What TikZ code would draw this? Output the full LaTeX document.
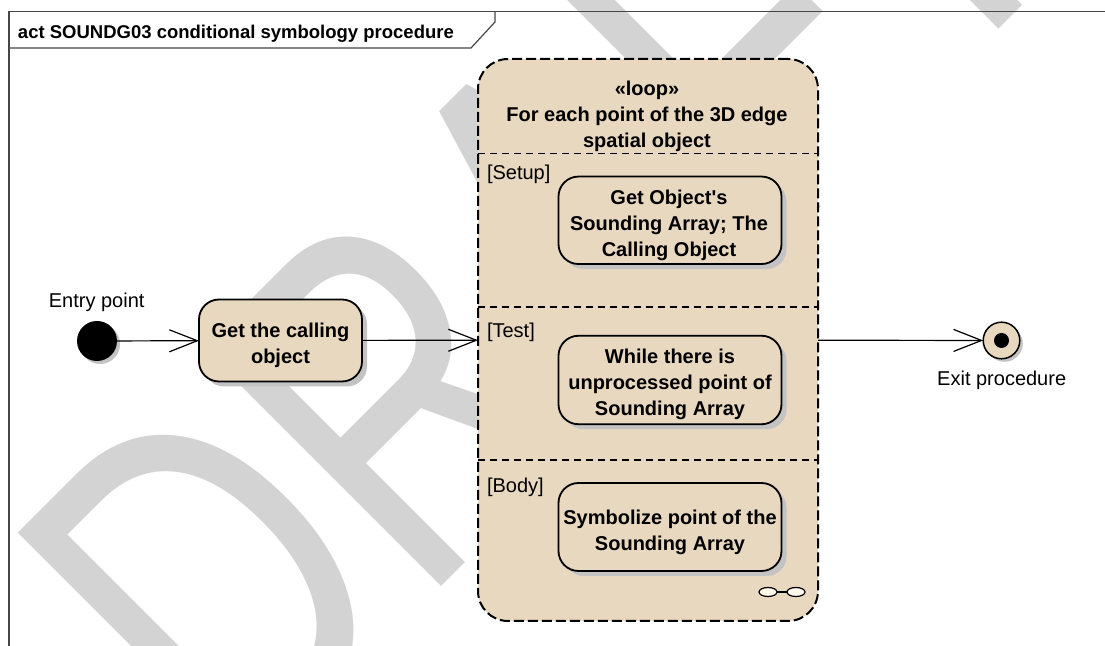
\documentclass[tikz,border=0pt]{standalone}
\usepackage{fontspec}
\setmainfont{Liberation Sans}
\usetikzlibrary{arrows.meta,shadows}
\definecolor{beige}{RGB}{232,216,191}
\definecolor{shadowgray}{RGB}{195,195,195}
\definecolor{wmgray}{RGB}{211,211,211}
\definecolor{framegray}{RGB}{70,70,70}
\definecolor{iconfill}{RGB}{255,250,235}
\begin{document}
\begin{tikzpicture}[x=0.5pt,y=-0.5pt,
  every node/.style={inner sep=0pt, outer sep=0pt},
  lbl/.style={font=\fontsize{10}{13}\selectfont},
  boldtxt/.style={font=\bfseries\fontsize{10}{13}\selectfont, align=center},
  actbox/.style={draw=black, line width=0.9pt, fill=beige, rounded corners=10pt,
    drop shadow={shadow xshift=2.5pt, shadow yshift=-2.5pt, fill=shadowgray, opacity=1}},
  loopbox/.style={draw=black, line width=1pt, dash pattern=on 5pt off 2pt, fill=beige, rounded corners=15pt},
  divider/.style={draw=black, line width=0.75pt, dash pattern=on 3.5pt off 2.5pt},
  arr/.style={draw=black, line width=0.6pt, -{Straight Barb[length=14pt,width=11pt]}},
  framel/.style={draw=framegray, line width=0.6pt},
  smallshadow/.style={drop shadow={shadow xshift=1.5pt, shadow yshift=-1.5pt, fill=shadowgray, opacity=1}},
]
\useasboundingbox (0,0) rectangle (1105,646);
\fill[white] (0,0) rectangle (1105,646);

% watermark
\begin{scope}
  \clip (0,0) rectangle (1105,646);
  \begin{scope}[shift={(235,793)}, rotate=45, xscale=0.74]
    \node[anchor=base west, text=wmgray, font=\fontsize{245}{245}\selectfont, transform shape] (wm) at (0,0) {DRAFT};
  \end{scope}
\end{scope}

% frame
\draw[framel] (1105,11.5) -- (9,11.5) -- (9,646);
\draw[framel] (9,48) -- (471,48) -- (495,22) -- (495,11.5);
\node[anchor=base west, font=\bfseries\fontsize{9.25}{11}\selectfont] (title) at (18,38.5) {act SOUNDG03 conditional symbology procedure};

% loop node
\node[loopbox, minimum width=170pt, minimum height=281pt] (loop) at (648,340) {};
\draw[divider] (478,153.5) -- (818,153.5);
\draw[divider] (478,307) -- (818,307);
\draw[divider] (478,460) -- (818,460);
\node[boldtxt] (hdr) at (647,116) {«loop»\\For each point of the 3D edge\\spatial object};
\node[lbl, anchor=west] (lsetup) at (487,174) {[Setup]};
\node[lbl, anchor=west] (ltest) at (487,332) {[Test]};
\node[lbl, anchor=west] (lbody) at (487,487) {[Body]};

% actions inside loop
\node[actbox, minimum width=111.5pt, minimum height=43.75pt] (a1) at (670,220.3) {};
\node[boldtxt] (a1t) at (669,225) {Get Object\textquotesingle s\\Sounding Array; The\\Calling Object};
\node[actbox, minimum width=111.5pt, minimum height=44.25pt] (a2) at (670,380) {};
\node[boldtxt] (a2t) at (670,384) {While there is\\unprocessed point of\\Sounding Array};
\node[actbox, minimum width=111.5pt, minimum height=44pt] (a3) at (670,527) {};
\node[boldtxt] (a3t) at (670,532.6) {Symbolize point of the\\Sounding Array};

% iterative icon
\draw[line width=0.6pt] (777,592) -- (787,592);
\draw[fill=iconfill, line width=0.6pt] (768,592) ellipse [x radius=4.5pt, y radius=2.25pt];
\draw[fill=iconfill, line width=0.6pt] (796,592) ellipse [x radius=4.5pt, y radius=2.25pt];

% first action
\node[actbox, minimum width=81.5pt, minimum height=41pt] (a0) at (280.5,340.5) {};
\node[boldtxt] (a0t) at (280.5,345) {Get the calling\\object};

% entry and exit
\node[circle, fill=black, minimum size=20pt, smallshadow] (entry) at (97,341) {};
\node[lbl] (entrylbl) at (96.7,302.8) {Entry point};
\node[circle, draw=black, line width=0.75pt, fill=beige, minimum size=18.3pt, smallshadow] (final) at (1001.5,340.5) {};
\node[circle, fill=black, minimum size=7.5pt] (finaldot) at (final.center) {};
\node[lbl] (exitlbl) at (1001.7,380) {Exit procedure};

% connectors
\draw[arr] (entry) -- (a0);
\draw[arr] (a0) -- (loop);
\draw[arr] (loop) -- (final);
\end{tikzpicture}
\end{document}
